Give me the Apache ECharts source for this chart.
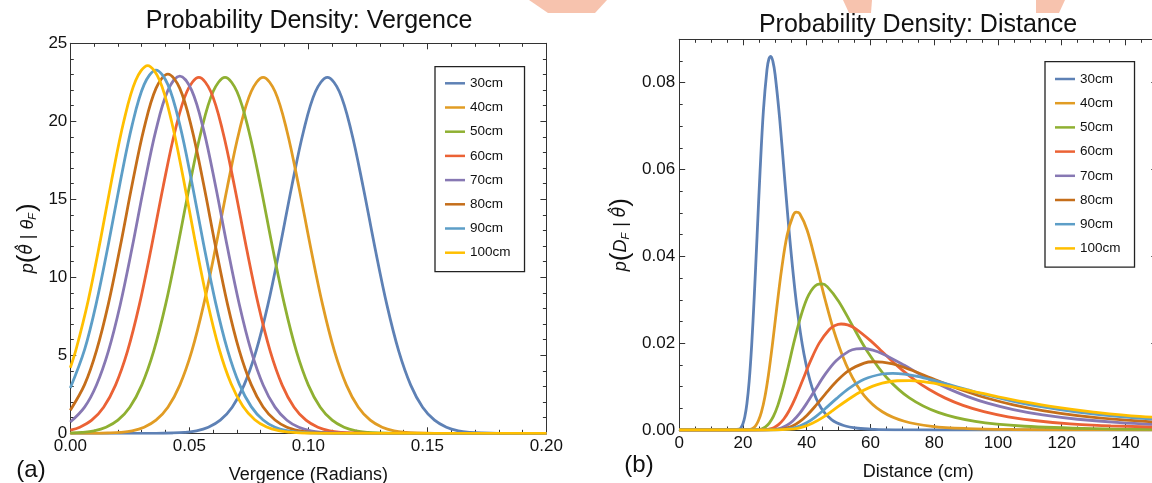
<!DOCTYPE html>
<html><head><meta charset="utf-8">
<script src="https://cdn.jsdelivr.net/npm/echarts@6.0.0/dist/echarts.min.js"></script>
<style>html,body{margin:0;padding:0;background:#fff}#c{width:1152px;height:483px}</style>
</head><body><div id="c"></div>
<script>
// ---------- data ----------
const seriesNames = ['30cm','40cm','50cm','60cm','70cm','80cm','90cm','100cm'];
const colors = ['#5E81B5','#E19C24','#8FB032','#EB6235','#8778B3','#C56E1A','#5D9EC7','#FFBF00'];

const vergXTickLabels = ['0.00','0.05','0.10','0.15','0.20'];
const vergYTickLabels = ['0','5','10','15','20','25'];
const distXTickLabels = ['0','20','40','60','80','100','120','140'];
const distYTickLabels = ['0.00','0.02','0.04','0.06','0.08'];

// vergence density p(theta_hat | theta_F) : [vergence (rad), density]
const verg30 = [[0,0],[0.02,0],[0.036,0],[0.043,0.02],[0.048,0.06],[0.053,0.16],[0.058,0.39],[0.063,0.84],[0.068,1.67],[0.073,3.09],[0.078,5.25],[0.083,8.23],[0.088,11.88],[0.093,15.81],[0.098,19.38],[0.103,21.91],[0.108,22.82],[0.113,21.91],[0.118,19.38],[0.123,15.81],[0.128,11.88],[0.133,8.23],[0.138,5.25],[0.143,3.09],[0.148,1.67],[0.153,0.84],[0.158,0.39],[0.163,0.16],[0.168,0.06],[0.173,0.02],[0.18,0],[0.19,0],[0.2,0]];
const verg40 = [[0,0],[0.011,0],[0.016,0.02],[0.021,0.06],[0.026,0.16],[0.031,0.39],[0.036,0.84],[0.041,1.67],[0.046,3.09],[0.051,5.25],[0.056,8.23],[0.061,11.88],[0.066,15.81],[0.071,19.38],[0.076,21.91],[0.081,22.82],[0.086,21.91],[0.091,19.38],[0.096,15.81],[0.101,11.88],[0.106,8.23],[0.111,5.25],[0.116,3.09],[0.121,1.67],[0.126,0.84],[0.131,0.39],[0.136,0.16],[0.141,0.06],[0.146,0.02],[0.153,0],[0.17,0],[0.2,0]];
const verg50 = [[0,0.02],[0.005,0.06],[0.01,0.16],[0.015,0.39],[0.02,0.84],[0.025,1.67],[0.03,3.09],[0.035,5.25],[0.04,8.23],[0.045,11.88],[0.05,15.81],[0.055,19.38],[0.06,21.91],[0.065,22.82],[0.07,21.91],[0.075,19.38],[0.08,15.81],[0.085,11.88],[0.09,8.23],[0.095,5.25],[0.1,3.09],[0.105,1.67],[0.11,0.84],[0.115,0.39],[0.12,0.16],[0.125,0.06],[0.13,0.02],[0.137,0],[0.16,0],[0.2,0]];
const verg60 = [[0,0.2],[0.004,0.39],[0.009,0.84],[0.014,1.67],[0.019,3.09],[0.024,5.25],[0.029,8.23],[0.034,11.88],[0.039,15.81],[0.044,19.38],[0.049,21.91],[0.054,22.82],[0.059,21.91],[0.064,19.38],[0.069,15.81],[0.074,11.88],[0.079,8.23],[0.084,5.25],[0.089,3.09],[0.094,1.67],[0.099,0.84],[0.104,0.39],[0.109,0.16],[0.114,0.06],[0.119,0.02],[0.126,0],[0.15,0],[0.2,0]];
const verg70 = [[0,0.72],[0.006,1.68],[0.011,3.10],[0.016,5.27],[0.021,8.26],[0.026,11.92],[0.031,15.87],[0.036,19.45],[0.041,21.98],[0.046,22.9],[0.051,21.98],[0.056,19.45],[0.061,15.87],[0.066,11.92],[0.071,8.26],[0.076,5.27],[0.081,3.10],[0.086,1.68],[0.091,0.84],[0.096,0.39],[0.101,0.16],[0.106,0.06],[0.111,0.02],[0.118,0],[0.14,0],[0.2,0]];
const verg80 = [[0,1.48],[0.006,3.12],[0.011,5.30],[0.016,8.30],[0.021,11.99],[0.026,15.96],[0.031,19.56],[0.036,22.11],[0.041,23.03],[0.046,22.11],[0.051,19.56],[0.056,15.96],[0.061,11.99],[0.066,8.30],[0.071,5.30],[0.076,3.12],[0.081,1.69],[0.086,0.85],[0.091,0.39],[0.096,0.17],[0.101,0.06],[0.106,0.02],[0.113,0],[0.14,0],[0.2,0]];
const verg90 = [[0,2.9],[0.006,5.36],[0.011,8.39],[0.016,12.12],[0.021,16.13],[0.026,19.77],[0.031,22.35],[0.036,23.28],[0.041,22.35],[0.046,19.77],[0.051,16.13],[0.056,12.12],[0.061,8.39],[0.066,5.36],[0.071,3.15],[0.076,1.71],[0.081,0.85],[0.086,0.39],[0.091,0.17],[0.096,0.07],[0.101,0.02],[0.108,0],[0.13,0],[0.2,0]];
const verg100 = [[0,4.2],[0.0025,5.42],[0.0075,8.50],[0.0125,12.27],[0.0175,16.33],[0.0225,20.02],[0.0275,22.63],[0.0325,23.57],[0.0375,22.63],[0.0425,20.02],[0.0475,16.33],[0.0525,12.27],[0.0575,8.50],[0.0625,5.42],[0.0675,3.19],[0.0725,1.73],[0.0775,0.87],[0.0825,0.40],[0.0875,0.17],[0.0925,0.07],[0.0975,0.02],[0.1045,0],[0.13,0],[0.2,0]];

// distance density p(D_F | theta_hat) : [distance (cm), density]
const dist30 = [[0,0],[10,0],[16,0],[18.79,0.00018],[19.35,0.00052],[19.94,0.00131],[20.57,0.0030],[21.24,0.00605],[21.96,0.01126],[22.73,0.01944],[23.55,0.03076],[24.44,0.04479],[25.39,0.05989],[26.42,0.0736],[27.54,0.08303],[28.14,0.08546],[28.76,0.08608],[29.41,0.08487],[30.09,0.0819],[31.55,0.07152],[33.16,0.05727],[34.95,0.04207],[36.93,0.02831],[39.16,0.01745],[41.67,0.00983],[44.52,0.00507],[47.79,0.00238],[51.59,0.00103],[56.03,0.0004],[61.32,0.00014],[67.71,0.00004],[80,0],[110,0],[150,0]];
const dist40 = [[0,0],[10,0],[19,0],[22.26,0.00013],[23.05,0.00037],[23.90,0.00091],[24.81,0.00206],[25.79,0.0041],[26.86,0.00752],[28.02,0.01279],[29.28,0.0199],[30.66,0.02845],[32.18,0.03729],[33.85,0.04483],[35.71,0.04938],[36.72,0.05017],[37.79,0.04986],[40.12,0.04607],[42.76,0.03894],[45.77,0.03006],[49.24,0.02119],[53.28,0.0136],[58.04,0.00794],[63.73,0.0042],[70.65,0.00201],[79.27,0.00086],[90.28,0.00034],[104.8,0.00012],[125,0.00003],[150,0]];
const dist50 = [[0,0],[10,0],[21,0],[25.0,0.0001],[26.0,0.00029],[27.08,0.00071],[28.26,0.00159],[29.55,0.00313],[30.95,0.00567],[32.5,0.00951],[34.21,0.01458],[36.11,0.02051],[38.24,0.02641],[40.63,0.03113],[43.33,0.03354],[44.83,0.03367],[46.43,0.03303],[50.0,0.02967],[54.17,0.02427],[59.09,0.01804],[65.0,0.01216],[72.22,0.0074],[81.25,0.00405],[92.86,0.00198],[108.33,0.00086],[130,0.00032],[162.5,0.0001]];
const dist60 = [[0,0],[10,0],[23,0],[27.31,0.00009],[28.51,0.00024],[29.82,0.00058],[31.25,0.0013],[32.83,0.00253],[34.57,0.00454],[36.52,0.00753],[38.69,0.0114],[41.14,0.0158],[43.92,0.02002],[47.10,0.02316],[48.87,0.02407],[50.78,0.02442],[52.85,0.02423],[55.08,0.02347],[60.19,0.02047],[63.11,0.01843],[66.33,0.01619],[69.89,0.01385],[73.86,0.01155],[78.31,0.00937],[83.33,0.0074],[89.04,0.00567],[95.59,0.00423],[103.17,0.00305],[112.07,0.00213],[122.64,0.00143],[135.42,0.00093],[171.05,0.00034]];
const dist70 = [[0,0],[10,0],[25,0],[30.66,0.00021],[32.18,0.0005],[33.85,0.00111],[35.71,0.00214],[37.79,0.00382],[40.12,0.00626],[42.76,0.00936],[45.77,0.01281],[49.24,0.01597],[53.28,0.01817],[55.56,0.01869],[58.04,0.01877],[60.75,0.0184],[63.73,0.01758],[70.65,0.01491],[74.71,0.01319],[79.27,0.01136],[84.42,0.00953],[90.28,0.00776],[97.01,0.00612],[104.84,0.0047],[114.04,0.00347],[125,0.00248],[138.3,0.0017],[154.76,0.00112]];
const dist80 = [[0,0],[10,0],[27,0],[32.18,0.00019],[33.85,0.00048],[35.71,0.00099],[37.79,0.00193],[40.12,0.00341],[42.76,0.00554],[45.77,0.00822],[49.24,0.01112],[53.28,0.01373],[58.04,0.0154],[60.75,0.01572],[63.73,0.01565],[67.01,0.01521],[70.65,0.01439],[79.27,0.01191],[84.42,0.0104],[90.28,0.00882],[97.01,0.00725],[104.84,0.00579],[114.04,0.00446],[125,0.00332],[138.3,0.00237],[154.76,0.00163]];
const dist90 = [[0,0],[10,0],[29,0],[33.85,0.0002],[35.71,0.00043],[37.79,0.00089],[40.12,0.00172],[42.76,0.00304],[45.77,0.00489],[49.24,0.00718],[53.28,0.00961],[58.04,0.0117],[63.73,0.0129],[67.01,0.01306],[70.65,0.01287],[74.71,0.01237],[79.27,0.01156],[84.42,0.01051],[90.28,0.00929],[97.01,0.00795],[104.84,0.00662],[114.04,0.00531],[125,0.00411],[138.3,0.00307],[154.76,0.00219]];
const dist100 = [[0,0],[10,0],[30,0],[35.14,0.00018],[37.14,0.0004],[39.39,0.00084],[41.94,0.00161],[44.83,0.0028],[48.15,0.00447],[52.0,0.00651],[56.52,0.00865],[61.90,0.01041],[68.42,0.01134],[72.22,0.01138],[76.47,0.01113],[81.25,0.01058],[86.67,0.00979],[92.86,0.0088],[100,0.00766],[108.33,0.00646],[118.18,0.00526],[130,0.00413],[144.44,0.00312],[185.71,0.00154]];

const vergData = [verg30, verg40, verg50, verg60, verg70, verg80, verg90, verg100];
const distData = [dist30, dist40, dist50, dist60, dist70, dist80, dist90, dist100];

// ---------- chart ----------
const FONT = '"Liberation Sans", Arial, Helvetica, sans-serif';
const MFONT = '"DejaVu Sans", "Liberation Sans", sans-serif';
const INK = '#333';
const TXT = '#111';

function frameAxis(extra) {
  return Object.assign({
    type: 'value',
    axisLine: { show: true, onZero: false, lineStyle: { color: INK, width: 1 } },
    axisTick: { show: true, inside: true, length: 6, lineStyle: { color: INK, width: 1 } },
    minorTick: { show: true, length: 3.5, lineStyle: { color: INK, width: 1 } },
    splitLine: { show: false },
    minorSplitLine: { show: false },
    axisLabel: { show: false }
  }, extra);
}
function labelStyle(margin, fmt) {
  return { show: true, fontSize: 17, color: TXT, fontFamily: FONT, margin: margin, formatter: fmt };
}
const nameRich = {
  i: { fontStyle: 'italic', fontSize: 18, fontFamily: FONT, color: TXT, verticalAlign: 'middle' },
  h: { fontStyle: 'italic', fontSize: 17, fontFamily: MFONT, color: TXT, verticalAlign: 'middle' },
  n: { fontSize: 18, fontFamily: FONT, color: TXT, verticalAlign: 'middle' },
  b: { fontSize: 26, fontFamily: FONT, color: TXT, verticalAlign: 'middle', lineHeight: 27 },
  s: { fontStyle: 'italic', fontSize: 11, fontFamily: FONT, color: TXT, verticalAlign: 'bottom', padding: [0, 1, 3, 0] }
};

const chart = echarts.init(document.getElementById('c'), null, { renderer: 'canvas', width: 1152, height: 483 });

const series = [];
seriesNames.forEach((n, i) => {
  series.push({ name: n, type: 'line', xAxisIndex: 0, yAxisIndex: 0, data: vergData[i], smooth: 0.35,
    symbol: 'none', lineStyle: { width: 2.8, color: colors[i] }, itemStyle: { color: colors[i] }, z: 2 + i });
});
seriesNames.forEach((n, i) => {
  series.push({ name: n, type: 'line', xAxisIndex: 2, yAxisIndex: 2, data: distData[i], smooth: 0.35,
    symbol: 'none', lineStyle: { width: 2.8, color: colors[i] }, itemStyle: { color: colors[i] }, z: 2 + i });
});

const legendCommon = {
  orient: 'vertical', data: seriesNames, icon: 'rect', itemWidth: 20, itemHeight: 2.5, itemGap: 8.2,
  selectedMode: false, borderColor: '#222', borderWidth: 1.3, backgroundColor: '#fff',
  textStyle: { fontSize: 13.5, lineHeight: 16, color: TXT, fontFamily: FONT }
};

const titleStyle = { fontSize: 25, fontWeight: 'normal', color: TXT, fontFamily: FONT };

const option = {
  animation: false,
  backgroundColor: '#fff',
  color: colors,
  title: [
    { text: 'Probability Density: Vergence', left: 309, top: 9, textAlign: 'center', padding: 0, textStyle: titleStyle },
    { text: 'Probability Density: Distance', left: 918, top: 13, textAlign: 'center', padding: 0, textStyle: titleStyle },
    { text: '(a)', left: 31, top: 458, textAlign: 'center', padding: 0, textStyle: { fontSize: 24, color: TXT, fontFamily: FONT, fontWeight: 'normal' } },
    { text: '(b)', left: 639, top: 453, textAlign: 'center', padding: 0, textStyle: { fontSize: 24, color: TXT, fontFamily: FONT, fontWeight: 'normal' } }
  ],
  grid: [
    { left: 70.3, top: 43.3, width: 476.1, height: 390, containLabel: false, outerBoundsMode: 'none' },
    { left: 679.2, top: 39.3, width: 478.1, height: 390.7, containLabel: false, outerBoundsMode: 'none' }
  ],
  xAxis: [
    frameAxis({ gridIndex: 0, position: 'bottom', min: 0, max: 0.2, interval: 0.05,
      minorTick: { show: true, splitNumber: 5, length: 3.5, lineStyle: { color: INK } },
      axisLabel: labelStyle(5, (v, i) => vergXTickLabels[i] ?? ''),
      name: 'Vergence (Radians)', nameLocation: 'middle', nameGap: 33,
      nameTextStyle: { fontSize: 18, color: TXT, fontFamily: FONT } }),
    frameAxis({ gridIndex: 0, position: 'top', min: 0, max: 0.2, interval: 0.05,
      minorTick: { show: true, splitNumber: 5, length: 3.5, lineStyle: { color: INK } } }),
    frameAxis({ gridIndex: 1, position: 'bottom', min: 0, max: 150, interval: 20,
      minorTick: { show: true, splitNumber: 4, length: 3.5, lineStyle: { color: INK } },
      axisLabel: labelStyle(5, (v, i) => distXTickLabels[i] ?? ''),
      name: 'Distance (cm)', nameLocation: 'middle', nameGap: 33,
      nameTextStyle: { fontSize: 18, color: TXT, fontFamily: FONT } }),
    frameAxis({ gridIndex: 1, position: 'top', min: 0, max: 150, interval: 20,
      minorTick: { show: true, splitNumber: 4, length: 3.5, lineStyle: { color: INK } } })
  ],
  yAxis: [
    frameAxis({ gridIndex: 0, position: 'left', min: 0, max: 25, interval: 5,
      minorTick: { show: true, splitNumber: 5, length: 3.5, lineStyle: { color: INK } },
      axisLabel: labelStyle(3, (v, i) => vergYTickLabels[i] ?? ''),
      name: '{i|p}{b|(}{h|θ\u0302}{n| | }{i|θ}{s|F}{b|)}', nameLocation: 'middle', nameGap: 29, nameRotate: 90,
      nameTextStyle: { color: TXT, fontFamily: FONT, fontSize: 18, rich: nameRich } }),
    frameAxis({ gridIndex: 0, position: 'right', min: 0, max: 25, interval: 5,
      minorTick: { show: true, splitNumber: 5, length: 3.5, lineStyle: { color: INK } } }),
    frameAxis({ gridIndex: 1, position: 'left', min: 0, max: 0.09, interval: 0.02,
      minorTick: { show: true, splitNumber: 4, length: 3.5, lineStyle: { color: INK } },
      axisLabel: labelStyle(4, (v, i) => distYTickLabels[i] ?? ''),
      name: '{i|p}{b|(}{i|D}{s|F}{n| | }{h|θ\u0302}{b|)}', nameLocation: 'middle', nameGap: 45, nameRotate: 90,
      nameTextStyle: { color: TXT, fontFamily: FONT, fontSize: 18, rich: nameRich } }),
    frameAxis({ gridIndex: 1, position: 'right', min: 0, max: 0.09, interval: 0.02,
      minorTick: { show: true, splitNumber: 4, length: 3.5, lineStyle: { color: INK } } })
  ],
  legend: [
    Object.assign({}, legendCommon, { left: 435, top: 66.7, padding: [8.6, 14, 11, 10] }),
    Object.assign({}, legendCommon, { left: 1045, top: 61.7, padding: [9.3, 14, 10.7, 10] })
  ],
  graphic: [
    { type: 'polygon', silent: true, z: -10, shape: { points: [[529,0],[607,0],[595,13],[548,13]] }, style: { fill: '#F7C3AE' } },
    { type: 'polygon', silent: true, z: -10, shape: { points: [[843,0],[872,0],[871,13],[849,13]] }, style: { fill: '#F7C3AE' } },
    { type: 'polygon', silent: true, z: -10, shape: { points: [[1036,0],[1065,0],[1059,13],[1036,13]] }, style: { fill: '#F7C3AE' } }
  ],
  series: series
};
chart.setOption(option);
</script>
</body></html>
